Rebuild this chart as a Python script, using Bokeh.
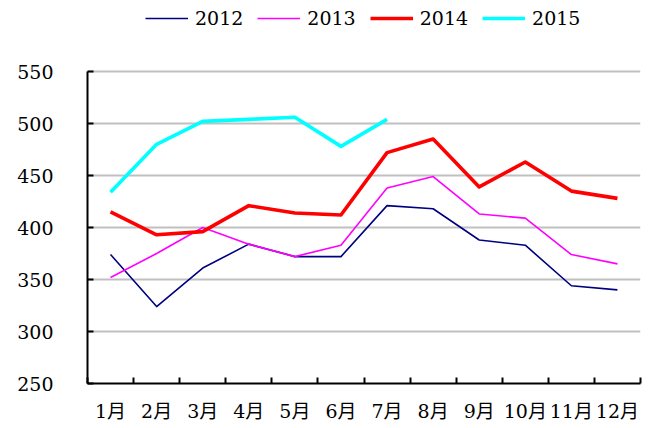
from bokeh.plotting import figure
from bokeh.models import FixedTicker, Legend, LegendItem, Range1d
from bokeh.embed import file_html
from bokeh.resources import INLINE
import numpy as np

months = ["1月", "2月", "3月", "4月", "5月", "6月", "7月", "8月", "9月", "10月", "11月", "12月"]
y_ticks = [250, 300, 350, 400, 450, 500, 550]
v2012 = [374, 324, 361, 384, 372, 372, 421, 418, 388, 383, 344, 340]
v2013 = [352, 375, 400, 384, 372, 383, 438, 449, 413, 409, 374, 365]
v2014 = [415, 393, 396, 421, 414, 412, 472, 485, 439, 463, 435, 428]
v2015 = [434, 480, 502, 504, 506, 478, 504]

FONT = "DejaVu Serif, Noto Sans CJK SC"

# layout (pixels): plotting frame spans the full top so the legend can sit inside it
HEIGHT = 424
BOTTOM = 41
AXIS_TOP_PX = 71            # where the top tick (550) sits
FRAME_H = HEIGHT - BOTTOM
y_lo, y_hi = y_ticks[0], y_ticks[-1]
y_end = y_hi + (y_hi - y_lo) * AXIS_TOP_PX / (FRAME_H - AXIS_TOP_PX)

x = np.arange(1, len(months) + 1)

p = figure(width=645, height=HEIGHT, output_backend="svg", toolbar_location=None, title=None,
           x_range=Range1d(0.5, len(months) + 0.5), y_range=Range1d(y_lo, y_end),
           min_border_left=87, min_border_right=5, min_border_top=0, min_border_bottom=BOTTOM)
p.outline_line_color = None
p.xgrid.visible = False
p.ygrid.grid_line_color = "#c0c0c0"
p.ygrid.grid_line_width = 2

r12 = p.line(x, v2012, line_color="#000080", line_width=1.6, line_join="round")
r13 = p.line(x, v2013, line_color="#ff00ff", line_width=1.6, line_join="round")
r14 = p.line(x, v2014, line_color="#ff0000", line_width=3.6, line_join="round")
r15 = p.line(x[:len(v2015)], v2015, line_color="#00ffff", line_width=3.6, line_join="round")

# x axis
xa = p.xaxis[0]
xa.ticker = FixedTicker(ticks=list(x), minor_ticks=[i + 0.5 for i in range(len(months) + 1)])
xa.major_label_overrides = {int(i): m for i, m in zip(x, months)}
xa.major_tick_in = 0
xa.major_tick_out = 0
xa.minor_tick_in = 6
xa.minor_tick_out = 0
xa.minor_tick_line_color = "black"
xa.minor_tick_line_width = 2
xa.axis_line_color = "black"
xa.axis_line_width = 2
xa.major_label_standoff = 16
xa.major_label_text_font = FONT
xa.major_label_text_font_size = "19px"
xa.major_label_text_color = "black"

ya = p.yaxis[0]
ya.ticker = FixedTicker(ticks=y_ticks, minor_ticks=[])
ya.bounds = (y_lo, y_hi)
ya.major_tick_in = 6
ya.major_tick_out = 0
ya.major_tick_line_color = "black"
ya.major_tick_line_width = 2
ya.axis_line_color = "black"
ya.axis_line_width = 2
ya.major_label_standoff = 34
ya.major_label_text_font = FONT
ya.major_label_text_font_size = "19px"
ya.major_label_text_color = "black"
p.ygrid.ticker = FixedTicker(ticks=y_ticks, minor_ticks=[])

legend = Legend(items=[LegendItem(label="2012", renderers=[r12]),
                       LegendItem(label="2013", renderers=[r13]),
                       LegendItem(label="2014", renderers=[r14]),
                       LegendItem(label="2015", renderers=[r15])],
                orientation="horizontal", location=(58, FRAME_H - 29),
                glyph_width=43, glyph_height=20, label_standoff=7, spacing=14,
                padding=0, margin=0, border_line_color=None, background_fill_alpha=0,
                label_text_font=FONT, label_text_font_size="19px", label_text_color="black")
p.add_layout(legend, "center")

open("out.html", "w").write(file_html(p, INLINE))
